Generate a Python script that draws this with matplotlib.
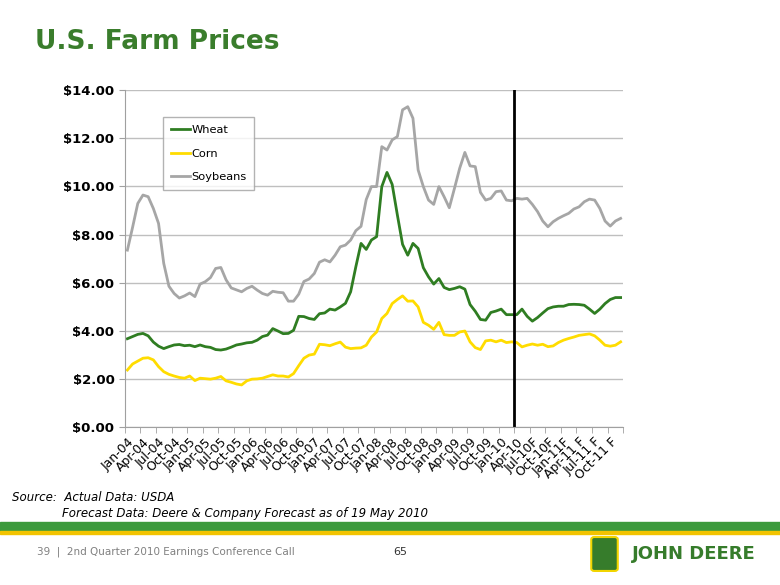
import numpy as np
import matplotlib.pyplot as plt
from matplotlib.patches import Rectangle, FancyBboxPatch

# monthly prices, Jan-04 .. Dec-11 (forecast from Apr-10)
wheat = [3.67, 3.76, 3.85, 3.89, 3.79, 3.53, 3.36, 3.26, 3.34, 3.41, 3.43, 3.38,
         3.40, 3.34, 3.41, 3.34, 3.31, 3.22, 3.20, 3.24, 3.32, 3.41, 3.45, 3.50,
         3.52, 3.61, 3.76, 3.82, 4.09, 3.99, 3.88, 3.89, 4.02, 4.60, 4.59, 4.51,
         4.47, 4.71, 4.74, 4.90, 4.86, 4.99, 5.14, 5.62, 6.66, 7.63, 7.38, 7.77,
         7.91, 9.99, 10.58, 10.08, 8.81, 7.59, 7.14, 7.63, 7.42, 6.62, 6.24, 5.94,
         6.17, 5.80, 5.71, 5.76, 5.83, 5.73, 5.09, 4.81, 4.47, 4.44, 4.76, 4.82,
         4.90, 4.67, 4.67, 4.67, 4.90, 4.60, 4.40, 4.55, 4.74, 4.92, 4.99, 5.02,
         5.02, 5.09, 5.10, 5.09, 5.06, 4.90, 4.72, 4.90, 5.13, 5.30, 5.38, 5.38]
corn = [2.37, 2.62, 2.74, 2.86, 2.88, 2.79, 2.51, 2.30, 2.19, 2.12, 2.06, 2.03,
        2.12, 1.93, 2.03, 2.01, 1.99, 2.03, 2.10, 1.92, 1.86, 1.79, 1.75, 1.92,
        1.99, 2.00, 2.03, 2.10, 2.17, 2.12, 2.12, 2.08, 2.22, 2.55, 2.86, 2.99,
        3.03, 3.44, 3.42, 3.38, 3.46, 3.53, 3.32, 3.26, 3.28, 3.29, 3.40, 3.74,
        3.95, 4.51, 4.72, 5.13, 5.30, 5.45, 5.23, 5.24, 4.99, 4.35, 4.23, 4.06,
        4.35, 3.84, 3.81, 3.81, 3.95, 3.99, 3.54, 3.30, 3.22, 3.58, 3.61, 3.54,
        3.61, 3.51, 3.54, 3.51, 3.33, 3.40, 3.45, 3.40, 3.44, 3.34, 3.37, 3.51,
        3.61, 3.68, 3.74, 3.81, 3.84, 3.87, 3.79, 3.61, 3.40, 3.36, 3.40, 3.54]
soybeans = [7.35, 8.30, 9.29, 9.64, 9.57, 9.08, 8.46, 6.80, 5.85, 5.55, 5.36, 5.45,
            5.57, 5.42, 5.94, 6.04, 6.21, 6.59, 6.63, 6.12, 5.78, 5.70, 5.62, 5.76,
            5.85, 5.69, 5.55, 5.48, 5.64, 5.60, 5.58, 5.23, 5.23, 5.52, 6.05, 6.15,
            6.38, 6.85, 6.95, 6.86, 7.14, 7.49, 7.56, 7.77, 8.16, 8.34, 9.45, 9.99,
            9.99, 11.65, 11.51, 11.93, 12.07, 13.18, 13.31, 12.83, 10.68, 9.99, 9.43, 9.25,
            9.99, 9.57, 9.11, 9.92, 10.75, 11.41, 10.85, 10.82, 9.75, 9.43, 9.50, 9.78,
            9.81, 9.43, 9.40, 9.50, 9.47, 9.50, 9.25, 8.95, 8.56, 8.32, 8.53, 8.67,
            8.78, 8.88, 9.06, 9.15, 9.36, 9.47, 9.43, 9.08, 8.56, 8.35, 8.56, 8.67]
tick_labels = ['Jan-04', 'Apr-04', 'Jul-04', 'Oct-04', 'Jan-05', 'Apr-05', 'Jul-05', 'Oct-05',
               'Jan-06', 'Apr-06', 'Jul-06', 'Oct-06', 'Jan-07', 'Apr-07', 'Jul-07', 'Oct-07',
               'Jan-08', 'Apr-08', 'Jul-08', 'Oct-08', 'Jan-09', 'Apr-09', 'Jul-09', 'Oct-09',
               'Jan-10', 'Apr-10', 'Jul-10F', 'Oct-10F', 'Jan-11F', 'Apr-11 F', 'Jul-11 F', 'Oct-11 F']
forecast_start = 74.5

plt.rcParams['font.family'] = 'DejaVu Sans'
fig = plt.figure(figsize=(7.8, 5.85), dpi=100)
ax = fig.add_axes([0.160, 0.270, 0.639, 0.576])

x = np.arange(len(wheat))
ax.plot(x, wheat, color='#2f7d22', lw=2.0, label='Wheat')
ax.plot(x, corn, color='#ffdc00', lw=2.0, label='Corn')
ax.plot(x, soybeans, color='#a6a6a6', lw=2.0, label='Soybeans')
ax.axvline(forecast_start, color='black', lw=2)

ax.set_xlim(-0.5, len(wheat) - 0.5)
ax.set_ylim(0, 14)
ax.set_yticks(np.arange(0, 15, 2))
ax.set_yticklabels(['${:.2f}'.format(v) for v in np.arange(0, 15, 2)],
                   fontsize=9.5, fontweight='bold')
ax.yaxis.grid(True, color='#bfbfbf', lw=1)
ax.set_axisbelow(True)
ax.set_xticks(np.arange(0, len(wheat), 3))
ax.set_xticklabels(tick_labels, rotation=45, ha='right', rotation_mode='anchor', fontsize=9)
ax.set_xticks(np.arange(-0.5, len(wheat), 3), minor=True)
ax.tick_params(axis='x', which='major', length=0, pad=6)
ax.tick_params(axis='x', which='minor', length=4, color='#a0a0a0')
ax.tick_params(axis='y', length=4, color='#a0a0a0')
for s in ['top', 'right']:
    ax.spines[s].set_visible(False)
for s in ['left', 'bottom']:
    ax.spines[s].set_color('#a0a0a0')

leg = ax.legend(loc='upper left', bbox_to_anchor=(0.076, 0.92), borderaxespad=0,
                fontsize=8.2, handlelength=1.7, handletextpad=0.1, labelspacing=1.2,
                fancybox=False, edgecolor='#a0a0a0', borderpad=0.7)
leg.get_frame().set_linewidth(1)

fig.text(0.045, 0.928, 'U.S. Farm Prices', fontsize=19, fontweight='bold',
         color='#3a7d2c', va='center')

fig.text(0.015, 0.150, 'Source:  Actual Data: USDA', fontsize=8.5, style='italic', va='center')
fig.text(0.080, 0.122, 'Forecast Data: Deere & Company Forecast as of 19 May 2010',
         fontsize=8.5, style='italic', va='center')

fig.patches.append(Rectangle((0, 0.093), 1, 0.014, transform=fig.transFigure,
                             color='#3c9a3c', zorder=1))
fig.patches.append(Rectangle((0, 0.088), 1, 0.005, transform=fig.transFigure,
                             color='#f2c300', zorder=1))

fig.text(0.047, 0.056, '39  |  2nd Quarter 2010 Earnings Conference Call',
         fontsize=7.5, color='#808080', va='center')
fig.text(0.513, 0.056, '65', fontsize=8, color='#333333', va='center', ha='center')

fig.patches.append(FancyBboxPatch((0.762, 0.028), 0.026, 0.050, boxstyle='round,pad=0.004',
                                  transform=fig.transFigure, fc='#367c2b', ec='#f2d500', lw=1.5))
fig.text(0.810, 0.053, 'JOHN DEERE', fontsize=13, fontweight='bold', color='#367c2b',
         va='center')

fig.savefig('out.png', dpi=100)
